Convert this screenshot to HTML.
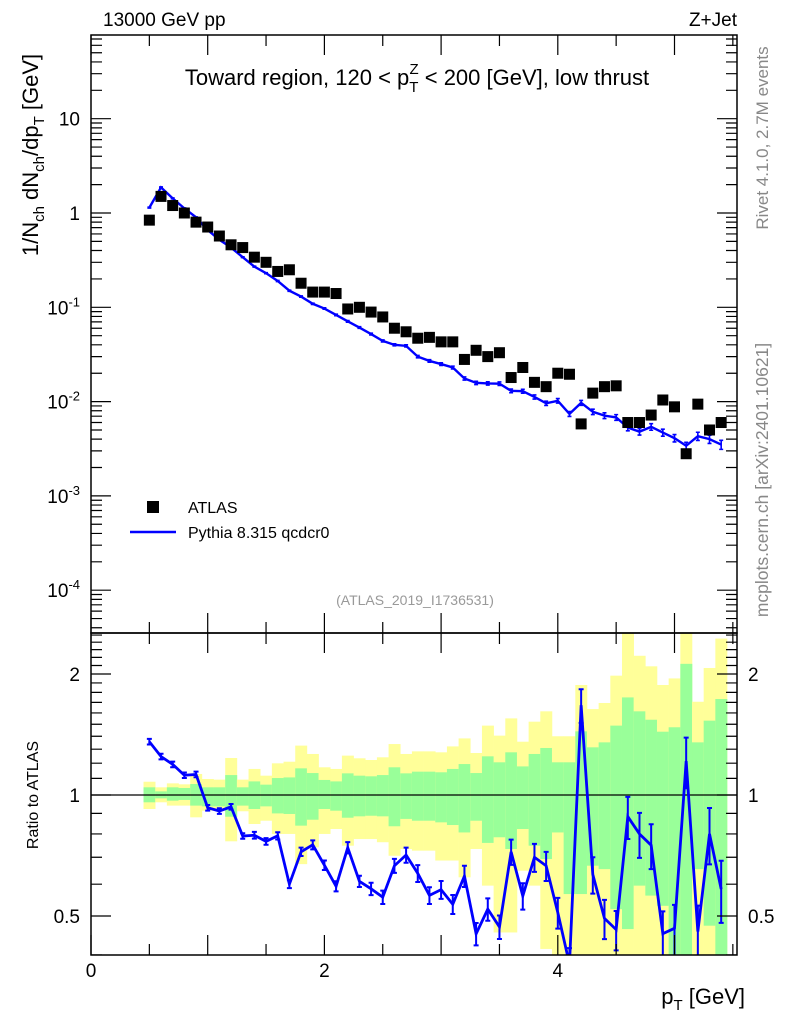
<!DOCTYPE html>
<html><head><meta charset="utf-8"><style>
html,body{margin:0;padding:0;background:#fff;}
svg{display:block;font-family:"Liberation Sans",Arial,sans-serif;}
</style></head><body>
<svg id="chart" width="786" height="1024" viewBox="0 0 786 1024" xmlns="http://www.w3.org/2000/svg">
<rect x="0" y="0" width="786" height="1024" fill="#fff"/>
<g id="bands"></g>
<g id="marks"></g>
<g id="axes"></g>
<text x="103" y="26" font-size="19">13000 GeV pp</text>
<text x="737" y="26" font-size="19" text-anchor="end">Z+Jet</text>
<text x="417" y="85" font-size="22" text-anchor="middle">Toward region, 120 &lt; p<tspan font-size="15" dy="7">T</tspan><tspan font-size="15" dx="-9" dy="-18">Z</tspan><tspan dy="11"> &lt; 200 [GeV], low thrust</tspan></text>
<text transform="translate(768,138) rotate(-90)" font-size="17" fill="#888" text-anchor="middle">Rivet 4.1.0,  2.7M events</text>
<text transform="translate(768,480) rotate(-90)" font-size="17.5" fill="#888" text-anchor="middle">mcplots.cern.ch [arXiv:2401.10621]</text>
<text transform="translate(38,155) rotate(-90)" font-size="22" text-anchor="middle">1/N<tspan font-size="15" dy="6">ch</tspan><tspan dy="-6"> dN</tspan><tspan font-size="15" dy="6">ch</tspan><tspan dy="-6">/dp</tspan><tspan font-size="15" dy="6">T</tspan><tspan dy="-6"> [GeV]</tspan></text>
<text transform="translate(38,795) rotate(-90)" font-size="16" text-anchor="middle">Ratio to ATLAS</text>
<text x="745" y="1004" font-size="22" text-anchor="end">p<tspan font-size="15" dy="6">T</tspan><tspan dy="-6"> [GeV]</tspan></text>
<text x="415" y="605" font-size="14" fill="#999" text-anchor="middle">(ATLAS_2019_I1736531)</text>
<rect x="147" y="501" width="12" height="12" fill="#000"/>
<text x="188" y="513" font-size="16">ATLAS</text>
<line x1="130" y1="532" x2="176" y2="532" stroke="#0000ff" stroke-width="2.5"/>
<text x="188" y="538" font-size="16">Pythia 8.315 qcdcr0</text>
</svg>
<script>
const xCenters=[0.5,0.6,0.7,0.8,0.9,1.0,1.1,1.2,1.3,1.4,1.5,1.6,1.7,1.8,1.9,2.0,2.1,2.2,2.3,2.4,2.5,2.6,2.7,2.8,2.9,3.0,3.1,3.2,3.3,3.4,3.5,3.6,3.7,3.8,3.9,4.0,4.1,4.2,4.3,4.4,4.5,4.6,4.7,4.8,4.9,5.0,5.1,5.2,5.3,5.4];
const atlasValues=[0.84,1.5,1.2,1.0,0.80,0.71,0.57,0.46,0.43,0.34,0.30,0.24,0.25,0.18,0.145,0.145,0.14,0.096,0.10,0.089,0.079,0.060,0.055,0.047,0.048,0.043,0.043,0.028,0.035,0.030,0.033,0.018,0.023,0.016,0.0144,0.020,0.0195,0.0058,0.0123,0.0144,0.0147,0.0060,0.0060,0.0072,0.0104,0.0088,0.0028,0.0094,0.0050,0.0060];
const pythiaValues=[1.14,1.87,1.43,1.12,0.90,0.66,0.52,0.43,0.34,0.27,0.23,0.19,0.15,0.13,0.109,0.097,0.083,0.071,0.061,0.052,0.044,0.040,0.039,0.030,0.027,0.025,0.023,0.0176,0.0158,0.0156,0.0155,0.013,0.0129,0.0112,0.0096,0.0102,0.0074,0.0097,0.0078,0.0071,0.0068,0.0053,0.0048,0.0054,0.0047,0.0041,0.0034,0.0043,0.0040,0.0035];
const pythiaRelErr=[0.01,0.01,0.01,0.01,0.01,0.01,0.01,0.01,0.01,0.012,0.012,0.013,0.014,0.015,0.016,0.017,0.018,0.02,0.02,0.022,0.024,0.025,0.027,0.03,0.03,0.032,0.034,0.038,0.04,0.04,0.042,0.045,0.047,0.05,0.052,0.055,0.06,0.06,0.065,0.07,0.07,0.075,0.08,0.08,0.085,0.09,0.09,0.1,0.1,0.11];
const greenUp=[1.045,1.021,1.045,1.041,1.065,1.045,1.045,1.121,1.045,1.081,1.061,1.102,1.106,1.165,1.134,1.090,1.081,1.132,1.117,1.113,1.121,1.172,1.132,1.143,1.143,1.139,1.161,1.194,1.134,1.248,1.206,1.277,1.178,1.265,1.309,1.206,1.206,1.440,1.314,1.352,1.488,1.749,1.615,1.539,1.437,1.474,2.12,1.352,1.531,1.733];
const greenDown=[0.959,0.981,0.968,0.972,0.941,0.937,0.937,0.883,0.941,0.923,0.937,0.900,0.897,0.839,0.868,0.923,0.914,0.878,0.885,0.888,0.885,0.836,0.872,0.863,0.863,0.855,0.842,0.807,0.863,0.760,0.785,0.734,0.823,0.748,0.693,0.807,0.567,0.567,0.667,0.654,0.520,0.464,0.595,0.562,0.530,0.376,0.376,0.654,0.473,0.376];
const yellowUp=[1.079,1.045,1.069,1.063,1.128,1.096,1.092,1.236,1.092,1.161,1.117,1.199,1.210,1.327,1.265,1.172,1.161,1.253,1.234,1.222,1.241,1.339,1.265,1.284,1.284,1.277,1.321,1.383,1.272,1.488,1.405,1.551,1.357,1.522,1.615,1.400,1.400,1.878,1.636,1.694,1.981,2.6,2.22,2.09,1.878,1.95,2.6,1.706,2.07,2.45];
const yellowDown=[0.923,0.959,0.941,0.941,0.880,0.914,0.919,0.767,0.911,0.847,0.863,0.800,0.800,0.673,0.741,0.800,0.823,0.748,0.777,0.777,0.763,0.706,0.734,0.727,0.727,0.687,0.687,0.624,0.734,0.595,0.455,0.455,0.648,0.595,0.414,0.376,0.376,0.376,0.376,0.376,0.376,0.376,0.376,0.376,0.376,0.376,0.376,0.376,0.376,0.376];
const binWidth=0.1;
const mainTickVals=[10,1,0.1,0.01,0.001,0.0001];
const mainTickLabels=["10","1","10|-1","10|-2","10|-3","10|-4"];
const ratioTickVals=[2,1,0.5];
const ratioTickLabels=["2","1","0.5"];
const xTickVals=[0,2,4];
const xTickLabels=["0","2","4"];

const NS="http://www.w3.org/2000/svg";
const L=91,R=737,T=35,MB=633,RB=955;
const X=v=>L+v*116.7;
const YM=v=>213-94.3*Math.log10(v);
const YR=v=>795-121*Math.log2(v);
const clipR=y=>Math.max(MB,Math.min(RB,y));
function mk(tag,attrs,parent){const e=document.createElementNS(NS,tag);for(const k in attrs)e.setAttribute(k,attrs[k]);parent.appendChild(e);return e;}
const bands=document.getElementById('bands'),marks=document.getElementById('marks'),axes=document.getElementById('axes');

for(let i=0;i<xCenters.length;i++){
  const x0=X(xCenters[i]-binWidth/2),x1=X(xCenters[i]+binWidth/2);
  const yT=clipR(YR(yellowUp[i])),yB=clipR(YR(yellowDown[i]));
  const r=mk('rect',{x:x0,y:yT,width:x1-x0+0.3,height:yB-yT,fill:'#ffff99'},bands);
  
  
  const gT=clipR(YR(greenUp[i])),gB=clipR(YR(greenDown[i]));
  const g=mk('rect',{x:x0,y:gT,width:x1-x0+0.3,height:gB-gT,fill:'#99ff99'},bands);
  
  
}
const one=mk('line',{x1:L,x2:R,y1:YR(1),y2:YR(1),stroke:'#000','stroke-width':1.3},marks);



const defs=mk('defs',{},marks);
const cp=mk('clipPath',{id:'rclip'},defs);mk('rect',{x:L,y:MB,width:R-L,height:RB-MB},cp);

let pts=xCenters.map((x,i)=>X(x)+','+YM(pythiaValues[i])).join(' ');
const pl=mk('polyline',{points:pts,fill:'none',stroke:'#0000ff','stroke-width':2.4},marks);


xCenters.forEach((x,i)=>{
  const v=pythiaValues[i],e=pythiaRelErr[i];
  const y1=YM(v*(1+e)),y2=YM(v*(1-e));
  const eb=mk('path',{d:`M${X(x)},${y1}V${y2}M${X(x)-2},${y1}h4M${X(x)-2},${y2}h4`,stroke:'#0000ff','stroke-width':1.6,fill:'none'},marks);
  
  
});
xCenters.forEach((x,i)=>{
  const s=mk('rect',{x:X(x)-5.5,y:YM(atlasValues[i])-5.5,width:11,height:11,fill:'#000'},marks);
  
  
});
const rg=mk('g',{'clip-path':'url(#rclip)'},marks);
pts=xCenters.map((x,i)=>X(x)+','+YR(pythiaValues[i]/atlasValues[i])).join(' ');
const rl=mk('polyline',{points:pts,fill:'none',stroke:'#0000ff','stroke-width':2.8},rg);


xCenters.forEach((x,i)=>{
  const r=pythiaValues[i]/atlasValues[i],e=pythiaRelErr[i]*1.6;
  const y1=YR(r*(1+e)),y2=YR(r*(1-e));
  const eb=mk('path',{d:`M${X(x)},${y1}V${y2}M${X(x)-2.5},${y1}h5M${X(x)-2.5},${y2}h5`,stroke:'#0000ff','stroke-width':2,fill:'none'},rg);
  
  
});

const f1=mk('rect',{x:L,y:T,width:R-L,height:MB-T,fill:'none',stroke:'#000','stroke-width':1.5},axes);


const f2=mk('rect',{x:L,y:MB,width:R-L,height:RB-MB,fill:'none',stroke:'#000','stroke-width':1.5},axes);



let d='';
for(let e=-5;e<=2;e++){for(let m=1;m<10;m++){const v=m*Math.pow(10,e);const y=YM(v);if(y<T||y>MB)continue;const len=m===1?20:11;d+=`M${L},${y}h${len}M${R},${y}h${-len}`;}}
for(let v=0.4;v<=2.55;v+=0.1){const y=YR(v);if(y<MB||y>RB)continue;const maj=Math.abs(v-0.5)<1e-6||Math.abs(v-1)<1e-6||Math.abs(v-2)<1e-6;const len=maj?20:11;d+=`M${L},${y}h${len}M${R},${y}h${-len}`;}
for(let k=0;k<=11;k++){const v=k*0.5;const x=X(v);if(x>R)continue;const len=(k%2===0)?20:11;d+=`M${x},${MB}v${-len}M${x},${T}v${len}M${x},${RB}v${-len}M${x},${MB}v${len}`;}
const tk=mk('path',{d:d,stroke:'#000','stroke-width':1.2,fill:'none'},axes);



mainTickVals.forEach((v,i)=>{
  const parts=mainTickLabels[i].split('|');
  const t=mk('text',{x:80,y:YM(v)+7,'font-size':19,'text-anchor':'end'},axes);
  
  
  t.textContent=parts[0];
  if(parts.length>1){const s=mk('tspan',{'font-size':13,dy:-8},t);s.textContent=parts[1];}
});
ratioTickVals.forEach((v,i)=>{
  const t=mk('text',{x:80,y:YR(v)+7,'font-size':19,'text-anchor':'end'},axes);
  
  
  t.textContent=ratioTickLabels[i];
  const t2=mk('text',{x:748,y:YR(v)+7,'font-size':19},axes);
  
  
  t2.textContent=ratioTickLabels[i];
});
xTickVals.forEach((v,i)=>{
  const t=mk('text',{x:X(v),y:977,'font-size':19,'text-anchor':'middle'},axes);
  
  
  t.textContent=xTickLabels[i];
});
</script>
</body></html>
